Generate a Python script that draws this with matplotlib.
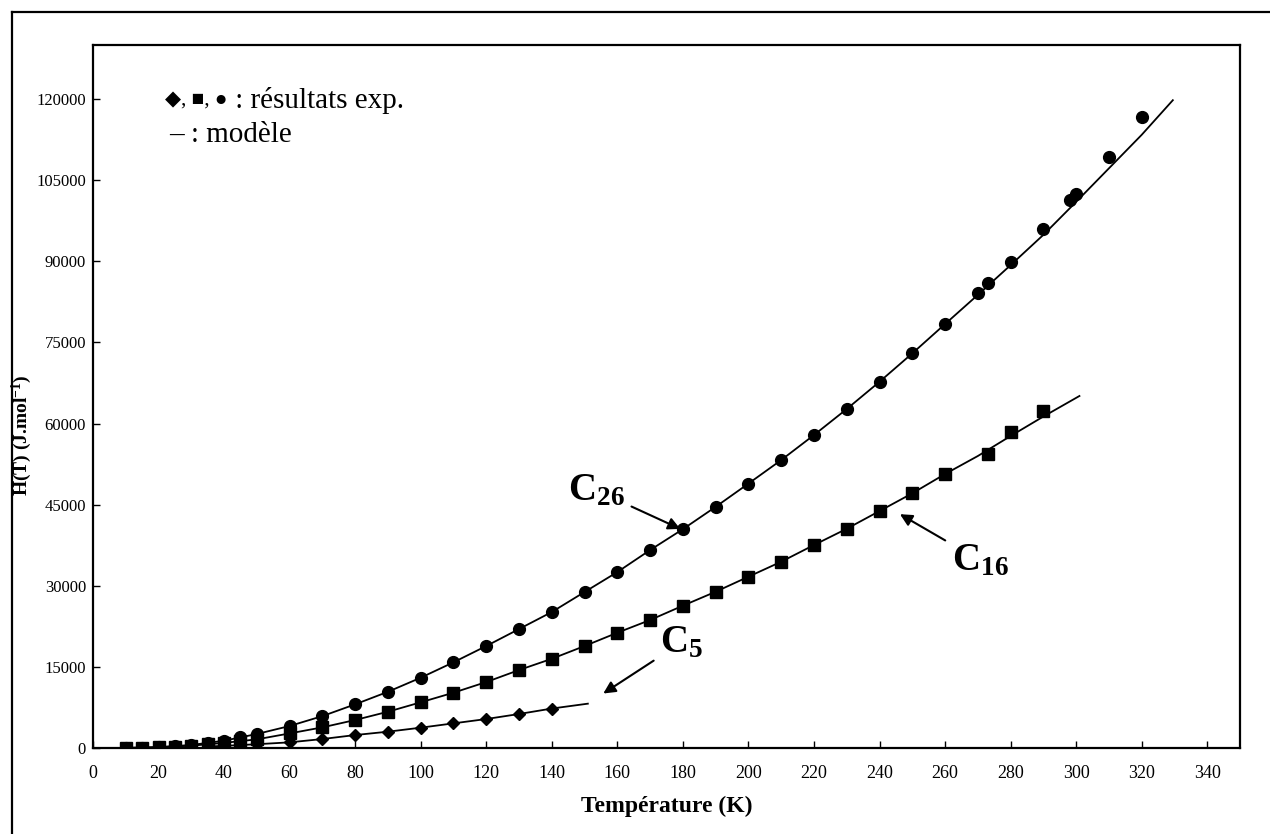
import matplotlib
matplotlib.use("Agg")
import matplotlib.pyplot as plt
from matplotlib.lines import Line2D

plt.rcParams['font.family'] = ['Liberation Serif', 'DejaVu Serif']
plt.rcParams['mathtext.fontset'] = 'custom'
plt.rcParams['mathtext.rm'] = 'Liberation Serif'
plt.rcParams['mathtext.bf'] = 'Liberation Serif:bold'
plt.rcParams['mathtext.it'] = 'Liberation Serif:italic'

# experimental points, H(T) in J/mol
T_c26 = [10, 15, 20, 25, 30, 35, 40, 45, 50, 60, 70, 80, 90, 100, 110, 120, 130,
         140, 150, 160, 170, 180, 190, 200, 210, 220, 230, 240, 250, 260, 270,
         273.15, 280, 290, 298.15, 300, 310, 320]
H_c26 = [20, 80, 170, 320, 560, 900, 1350, 1970, 2590, 4070, 5900, 8080, 10400,
         13000, 15850, 18860, 22000, 25150, 28850, 32540, 36610, 40470, 44600,
         48900, 53250, 57880, 62690, 67730, 72980, 78400, 84080, 85930, 89930,
         95970, 101330, 102440, 109340, 116620]

T_c16 = [10, 15, 20, 25, 30, 35, 40, 45, 50, 60, 70, 80, 90, 100, 110, 120, 130,
         140, 150, 160, 170, 180, 190, 200, 210, 220, 230, 240, 250, 260,
         273.15, 280, 290]
H_c16 = [20, 60, 140, 260, 430, 650, 950, 1250, 1600, 2700, 3820, 5180, 6710,
         8450, 10230, 12200, 14420, 16500, 18860, 21320, 23670, 26320, 28900,
         31680, 34450, 37540, 40550, 43820, 47100, 50670, 54360, 58400, 62400]

T_c5 = [35, 40, 45, 50, 60, 70, 80, 90, 100, 110, 120, 130, 140]
H_c5 = [280, 400, 540, 700, 1050, 1660, 2400, 3020, 3760, 4560, 5360, 6290, 7300]

# model curves
Tm_c26 = [10, 20, 30, 40, 50, 60, 70, 80, 90, 100, 110, 120, 130, 140, 150, 160,
          170, 180, 190, 200, 210, 220, 230, 240, 250, 260, 270, 280, 290, 300,
          310, 320, 329.5]
Hm_c26 = [20, 170, 560, 1350, 2590, 4070, 5900, 8080, 10400, 13000, 15850, 18860,
          22000, 25150, 28850, 32540, 36610, 40470, 44600, 48900, 53250, 57880,
          62690, 67730, 72980, 78400, 83800, 89300, 94900, 101000, 107200,
          113400, 119800]

Tm_c16 = [10, 20, 30, 40, 50, 60, 70, 80, 90, 100, 110, 120, 130, 140, 150, 160,
          170, 180, 190, 200, 210, 220, 230, 240, 250, 260, 270, 280, 290, 301]
Hm_c16 = [20, 140, 430, 950, 1600, 2700, 3820, 5180, 6710, 8450, 10230, 12200,
          14420, 16500, 18860, 21320, 23670, 26320, 28900, 31680, 34450, 37540,
          40550, 43820, 47100, 50670, 54000, 57700, 61300, 65100]

Tm_c5 = [35, 40, 50, 60, 70, 80, 90, 100, 110, 120, 130, 140, 151]
Hm_c5 = [280, 400, 700, 1050, 1660, 2400, 3020, 3760, 4560, 5360, 6290, 7300, 8200]

x_ticks = list(range(0, 341, 20))
y_ticks = list(range(0, 120001, 15000))

fig = plt.figure(figsize=(12.7, 8.34), dpi=100)
ax = fig.add_axes([0.0732, 0.1031, 0.9032, 0.8429])

lw = 1.3
ax.plot(Tm_c26, Hm_c26, color='black', lw=lw, zorder=2)
ax.plot(Tm_c16, Hm_c16, color='black', lw=lw, zorder=2)
ax.plot(Tm_c5, Hm_c5, color='black', lw=lw, zorder=2)

ax.plot(T_c26, H_c26, 'o', color='black', ms=8.5, ls='none', zorder=3)
ax.plot(T_c16, H_c16, 's', color='black', ms=8, ls='none', zorder=4)
ax.plot(T_c5, H_c5, 'D', color='black', ms=6.5, ls='none', zorder=5)

ax.set_xlim(0, 350)
ax.set_ylim(0, 130000)
ax.set_xticks(x_ticks)
ax.set_yticks(y_ticks)
ax.tick_params(axis='both', direction='in', length=5, width=1, colors='black')
ax.tick_params(axis='x', pad=12, labelsize=13)
ax.tick_params(axis='y', pad=5, labelsize=12)
for s in ax.spines.values():
    s.set_linewidth(1.6)
    s.set_color('black')

ax.set_xlabel('Température (K)', fontsize=17, fontweight='bold', labelpad=10)
ax.set_ylabel(r'H(T) (J.mol$^{\mathbf{-1}}$)', fontsize=14, fontweight='bold')
ax.yaxis.set_label_coords(-0.0515, 0.445)

# legend text: small symbols, then larger words
t1 = fig.text(0.130, 0.880, '◆, ■, ●', fontsize=15,
              family=['Liberation Serif', 'DejaVu Sans'], va='center')
ax.annotate(' : résultats exp.', xy=(1, 0.5), xycoords=t1, fontsize=21,
            va='center', ha='left')
fig.text(0.133, 0.838, '– : modèle', fontsize=21, va='center')

# curve labels
ann = dict(arrowstyle='-|>', color='black', lw=1.5, mutation_scale=18,
           shrinkA=3, shrinkB=2)
ax.annotate(r'C$_{\mathbf{26}}$', xy=(180, 40300), xytext=(145, 45860),
            fontsize=28, fontweight='bold', ha='left', va='baseline',
            arrowprops=ann)
ax.annotate(r'C$_{\mathbf{16}}$', xy=(245.5, 43500), xytext=(262, 32900),
            fontsize=28, fontweight='bold', ha='left', va='baseline',
            arrowprops=ann)
ax.annotate(r'C$_{\mathbf{5}}$', xy=(155, 9800), xytext=(173, 17750),
            fontsize=28, fontweight='bold', ha='left', va='baseline',
            arrowprops=ann)

# outer frame (top and left edges)
fig.add_artist(Line2D([0.0095, 1.0], [0.986, 0.986], color='black', lw=1.6,
                      transform=fig.transFigure))
fig.add_artist(Line2D([0.0095, 0.0095], [0.0, 0.986], color='black', lw=1.6,
                      transform=fig.transFigure))

fig.savefig('out.png', dpi=100)
